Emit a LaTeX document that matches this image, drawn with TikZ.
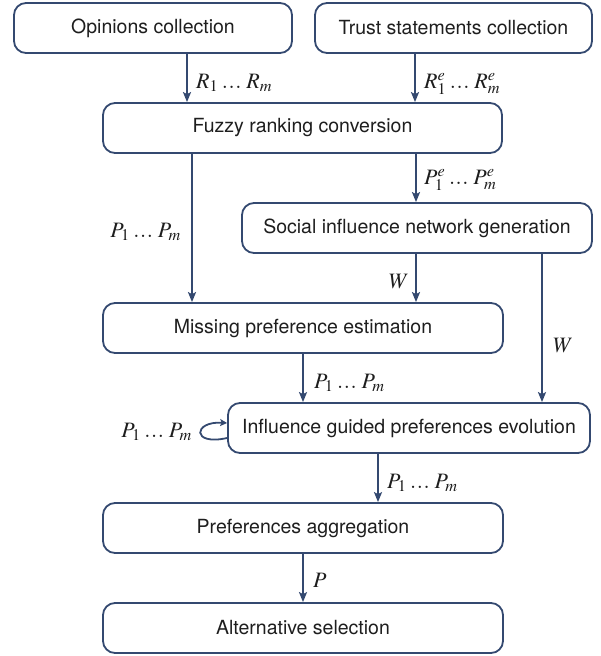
\documentclass[tikz,border=0pt]{standalone}
\usepackage{mathptmx}
\usepackage{fontspec}
\setmainfont{TeX Gyre Heros}
\usetikzlibrary{arrows.meta}
\definecolor{ln}{RGB}{52,73,112}
\definecolor{tx}{RGB}{30,30,30}
\newcommand\dts{\mkern3mu{.}\mkern0.5mu{.}\mkern0.5mu{.}\mkern4mu}
\begin{document}
\begin{tikzpicture}[x=1pt,y=-1pt,
  box/.style={draw=ln, line width=1.8pt, rounded corners=12pt, minimum height=50pt,
    inner sep=0pt, font=\fontsize{19.5}{23}\selectfont, text=tx, fill=white},
  arr/.style={draw=ln, line width=1.8pt, -{Stealth[length=10pt,width=8pt,inset=2pt]}},
  lab/.style={font=\fontsize{22}{26}\selectfont, inner sep=0pt, text=tx, anchor=base west},
  labr/.style={lab, anchor=base east}]
\useasboundingbox (0,0) rectangle (600,656);
% boxes
\node[box, minimum width=278pt] (op) at (153,28) {Opinions collection};
\node[box, minimum width=277pt] (tr) at (453.5,28) {Trust statements collection};
\node[box, minimum width=399pt] (fz) at (302.5,128) {Fuzzy ranking conversion};
\node[box, minimum width=350pt] (so) at (417,228) {Social influence network generation};
\node[box, minimum width=400pt] (mi) at (303,328) {Missing preference estimation};
\node[box, minimum width=362pt] (in) at (409,428) {Influence guided preferences evolution};
\node[box, minimum width=400pt] (pa) at (303,528) {Preferences aggregation};
\node[box, minimum width=400pt] (al) at (303,628) {Alternative selection};
% arrow columns
\coordinate (xa) at (187,0);
\coordinate (xb) at (415,0);
\coordinate (xc) at (192,0);
\coordinate (xd) at (416,0);
\coordinate (xe) at (542,0);
\coordinate (xf) at (303,0);
\coordinate (xg) at (378,0);
% connectors
\draw[arr] (op.south -| xa) -- (fz.north -| xa);
\draw[arr] (tr.south -| xb) -- (fz.north -| xb);
\draw[arr] (fz.south -| xc) -- (mi.north -| xc);
\draw[arr] (fz.south -| xd) -- (so.north -| xd);
\draw[arr] (so.south -| xd) -- (mi.north -| xd);
\draw[arr] (so.south -| xe) -- (in.north -| xe);
\draw[arr] (mi.south -| xf) -- (in.north -| xf);
\draw[arr] (in.south -| xg) -- (pa.north -| xg);
\draw[arr] (pa.south -| xf) -- (al.north -| xf);
\draw[draw=ln, line width=1.8pt, -{Stealth[length=7pt,width=7pt,inset=1.5pt]}]
  ([yshift=-10pt]in.west) .. controls +(-36,8) and +(-34,-2) .. ([yshift=5pt]in.west);
% labels
\node[lab] (l1) at (196,88) {$R_1\dts R_m$};
\node[lab] (l2) at (424,88) {$R^e_1\dts R^e_m$};
\node[lab] (l3) at (424,184) {$P^e_1\dts P^e_m$};
\node[labr] (l4) at (181,237) {$P_1\dts P_m$};
\node[labr] (l5) at (409,288) {$W$};
\node[lab] (l6) at (553,352) {$W$};
\node[lab] (l7) at (314,388) {$P_1\dts P_m$};
\node[labr] (l8) at (192,437) {$P_1\dts P_m$};
\node[lab] (l9) at (387,488) {$P_1\dts P_m$};
\node[lab] (l10) at (313,587) {$P$};
\end{tikzpicture}
\end{document}
